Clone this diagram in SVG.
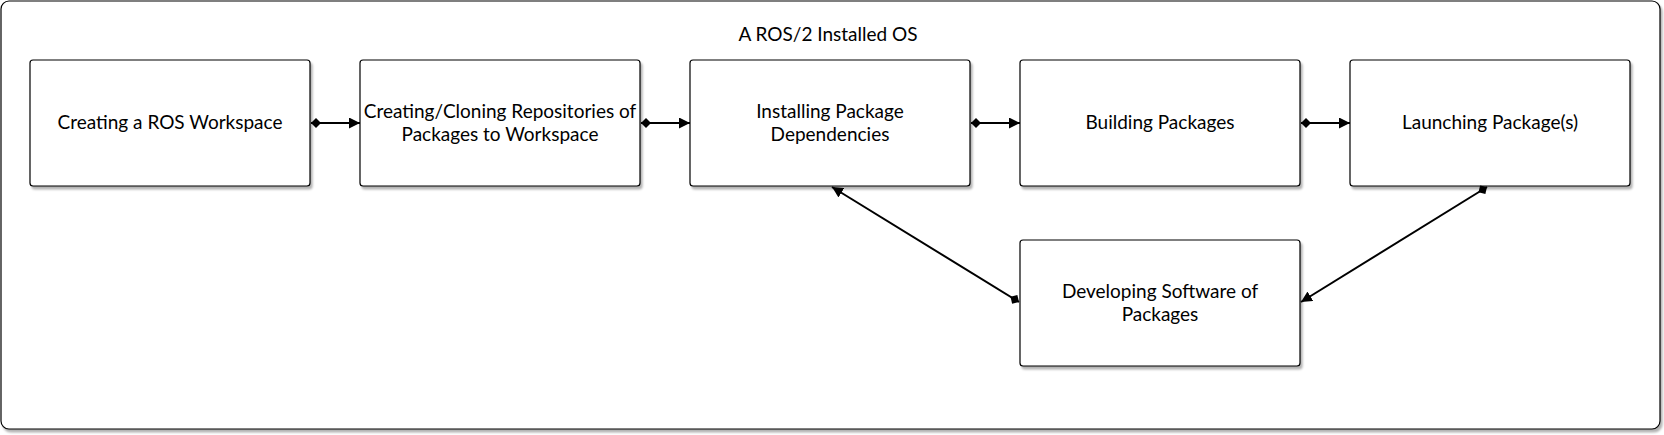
<svg xmlns="http://www.w3.org/2000/svg" width="1664" height="435" viewBox="0 0 1664 435">
<style>
.box{fill:#fff;stroke:#000;stroke-width:1.2;filter:url(#sh)}
.lbl{font-family:"Lato","Open Sans",sans-serif;font-size:19px;fill:#000;text-anchor:middle}
.edge{fill:none;stroke:#000;stroke-width:2;marker-start:url(#dia);marker-end:url(#arr)}
</style>
<defs>
<filter id="sh" x="-5%" y="-5%" width="110%" height="115%">
<feDropShadow dx="2" dy="3" stdDeviation="1.2" flood-color="#000" flood-opacity="0.3"/>
</filter>
<marker id="arr" viewBox="0 0 10 10" refX="10" refY="5" markerWidth="5.5" markerHeight="5.5" orient="auto" markerUnits="strokeWidth">
<path d="M0,0 L10,5 L0,10 z" fill="#000"/>
</marker>
<marker id="dia" viewBox="0 0 10 10" refX="0" refY="5" markerWidth="5" markerHeight="5" orient="auto" markerUnits="strokeWidth">
<path d="M0,5 L5,0 L10,5 L5,10 z" fill="#000"/>
</marker>
</defs>
<g id="container">
<rect class="box" x="1" y="1" width="1659" height="428" rx="8"/>
<text class="lbl" x="828" y="41">A ROS/2 Installed OS</text>
</g>
<g id="n1"><rect class="box" x="30" y="60" width="280" height="126" rx="3"/><text class="lbl" x="170" y="129">Creating a ROS Workspace</text></g>
<g id="n2"><rect class="box" x="360" y="60" width="280" height="126" rx="3"/><text class="lbl" x="500" y="118">Creating/Cloning Repositories of</text><text class="lbl" x="500" y="141">Packages to Workspace</text></g>
<g id="n3"><rect class="box" x="690" y="60" width="280" height="126" rx="3"/><text class="lbl" x="830" y="118">Installing Package</text><text class="lbl" x="830" y="141">Dependencies</text></g>
<g id="n4"><rect class="box" x="1020" y="60" width="280" height="126" rx="3"/><text class="lbl" x="1160" y="129">Building Packages</text></g>
<g id="n5"><rect class="box" x="1350" y="60" width="280" height="126" rx="3"/><text class="lbl" x="1490" y="129">Launching Package(s)</text></g>
<g id="n6"><rect class="box" x="1020" y="240" width="280" height="126" rx="3"/><text class="lbl" x="1160" y="298">Developing Software of</text><text class="lbl" x="1160" y="321">Packages</text></g>
<g id="connectors">
<path class="edge" d="M311,123 L360,123"/>
<path class="edge" d="M641,123 L690,123"/>
<path class="edge" d="M971,123 L1020,123"/>
<path class="edge" d="M1301,123 L1350,123"/>
<path class="edge" d="M1019,302 L832,187"/>
<path class="edge" d="M1487,187 L1301,302"/>
</g>
</svg>
